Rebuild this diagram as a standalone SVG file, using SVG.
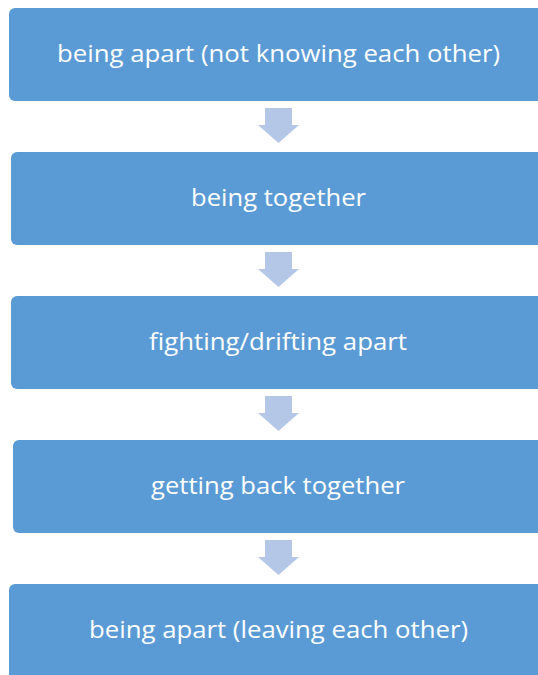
<svg xmlns="http://www.w3.org/2000/svg" width="538" height="675" viewBox="0 0 538 675">
<style>
.box{fill:#5B9BD5}
.arr{fill:#B4C7E7}
.lbl{fill:#FFFFFF;font-family:"Open Sans","Noto Sans","Liberation Sans",sans-serif;font-size:23px;text-anchor:middle}
</style>
<rect width="538" height="675" fill="#FFFFFF"/>
<g id="connectors">
<path class="arr" d="M265,108 H292 V125 H299 L278.5,143 L258,125 H265 Z"/>
<path class="arr" d="M265,252 H292 V269 H299 L278.5,287 L258,269 H265 Z"/>
<path class="arr" d="M265,396 H292 V413 H299 L278.5,431 L258,413 H265 Z"/>
<path class="arr" d="M265,540 H292 V557 H299 L278.5,575 L258,557 H265 Z"/>
</g>
<g id="n1"><rect class="box" x="9" y="8" width="540" height="93" rx="6"/><text class="lbl" x="278.5" y="62" textLength="443" lengthAdjust="spacingAndGlyphs">being apart (not knowing each other)</text></g>
<g id="n2"><rect class="box" x="11" y="152" width="540" height="93" rx="6"/><text class="lbl" x="278.5" y="206" textLength="175" lengthAdjust="spacingAndGlyphs">being together</text></g>
<g id="n3"><rect class="box" x="11" y="296" width="540" height="93" rx="6"/><text class="lbl" x="278" y="350" textLength="258" lengthAdjust="spacingAndGlyphs">fighting/drifting apart</text></g>
<g id="n4"><rect class="box" x="13" y="440" width="540" height="93" rx="6"/><text class="lbl" x="278" y="494" textLength="254" lengthAdjust="spacingAndGlyphs">getting back together</text></g>
<g id="n5"><rect class="box" x="9" y="584" width="540" height="100" rx="6"/><text class="lbl" x="278.5" y="638" textLength="379" lengthAdjust="spacingAndGlyphs">being apart (leaving each other)</text></g>
</svg>
